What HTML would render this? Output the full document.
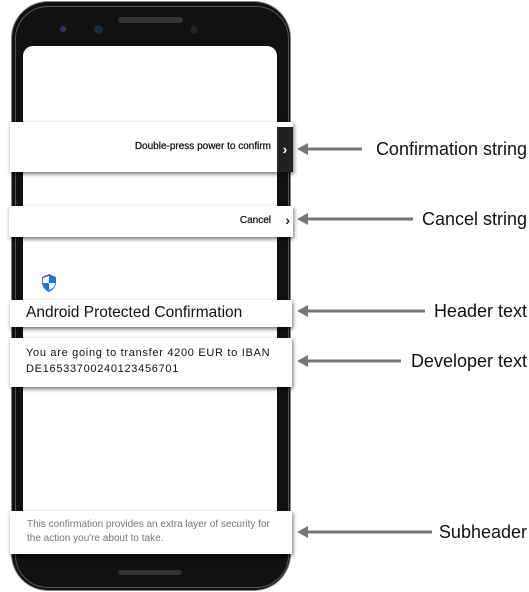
<!DOCTYPE html>
<html><head><meta charset="utf-8"><style>
body{margin:0;width:529px;height:592px;background:#fff;position:relative;overflow:hidden;font-family:"Liberation Sans",sans-serif}
.a{position:absolute}
.box{position:absolute;background:#fff;box-shadow:1px 2px 4px rgba(0,0,0,.55)}
.lbl{position:absolute;right:2px;font-size:18px;color:#111;white-space:nowrap;line-height:20px}
</style></head><body>
<!-- phone -->
<div class="a" style="left:12px;top:2px;width:278px;height:588px;background:#111;border-radius:36px;box-shadow:0 0 0 1px #888"></div>
<div class="a" style="left:15px;top:6px;width:272px;height:580px;border:1px solid #555;border-radius:33px"></div>
<div class="a" style="left:23px;top:46px;width:254px;height:508px;background:#fff;border-radius:10px 10px 0 0"></div>
<div class="a" style="left:118px;top:17px;width:65px;height:6px;background:#333;border-radius:3px"></div>
<div class="a" style="left:60px;top:26px;width:6px;height:6px;background:#2a3a6a;border-radius:50%"></div>
<div class="a" style="left:94px;top:25px;width:9px;height:9px;background:#1c2850;border-radius:50%"></div>
<div class="a" style="left:190px;top:26px;width:8px;height:8px;background:#222;border-radius:50%"></div>
<div class="a" style="left:118px;top:570px;width:64px;height:5px;background:#333;border-radius:3px"></div>
<!-- shield -->
<svg class="a" style="left:40px;top:273px" width="18" height="20" viewBox="0 0 18 20"><path d="M9 1 L16 4 V9 C16 14 13 17 9 19 C5 17 2 14 2 9 V4 Z" fill="#1a73e8"/><path d="M9 3 V10 H3 V5 Z M9 10 H15 C15 14 12 16 9 17 Z" fill="#fff"/></svg>
<!-- boxes -->
<div class="box" style="left:10px;top:122px;width:283px;height:50px"><div class="a" style="right:22px;top:19px;font-size:10px;color:#111;-webkit-text-stroke:.25px #111">Double-press power to confirm</div><div class="a" style="right:0;top:5px;width:16px;height:45px;background:#222;color:#fff;font-size:14px;font-weight:bold;text-align:center;line-height:45px">›</div></div>
<div class="box" style="left:9px;top:206px;width:284px;height:31px"><div class="a" style="right:22px;top:9px;font-size:10px;color:#111;-webkit-text-stroke:.25px #111">Cancel</div><div class="a" style="right:3px;top:6px;font-size:14px;color:#222;font-weight:bold">›</div></div>
<div class="box" style="left:10px;top:300px;width:282px;height:27px"><div class="a" style="left:16px;top:4px;font-size:15.5px;color:#111">Android Protected Confirmation</div></div>
<div class="box" style="left:10px;top:338px;width:282px;height:49px"><div class="a" style="left:16px;top:7px;font-size:11px;color:#111;line-height:16px;letter-spacing:.7px">You are going to transfer 4200 EUR to IBAN<br>DE16533700240123456701</div></div>
<div class="box" style="left:10px;top:511px;width:282px;height:43px"><div class="a" style="left:17px;top:7px;font-size:10px;color:#777;line-height:14px">This confirmation provides an extra layer of security for<br>the action you're about to take.</div></div>
<!-- arrows -->
<svg class="a" style="left:0;top:0" width="529" height="592">
<g stroke="#777" stroke-width="3" fill="#777">
<line x1="305" y1="149" x2="362" y2="149"/><polygon points="297,149 308,143 308,155" stroke="none"/>
<line x1="305" y1="219" x2="413" y2="219"/><polygon points="297,219 308,213 308,225" stroke="none"/>
<line x1="305" y1="311" x2="425" y2="311"/><polygon points="297,311 308,305 308,317" stroke="none"/>
<line x1="305" y1="361" x2="401" y2="361"/><polygon points="297,361 308,355 308,367" stroke="none"/>
<line x1="305" y1="532" x2="432" y2="532"/><polygon points="297,532 308,526 308,538" stroke="none"/>
</g></svg>
<div class="lbl" style="top:139px">Confirmation string</div>
<div class="lbl" style="top:209px">Cancel string</div>
<div class="lbl" style="top:301px">Header text</div>
<div class="lbl" style="top:351px">Developer text</div>
<div class="lbl" style="top:522px">Subheader</div>
</body></html>
